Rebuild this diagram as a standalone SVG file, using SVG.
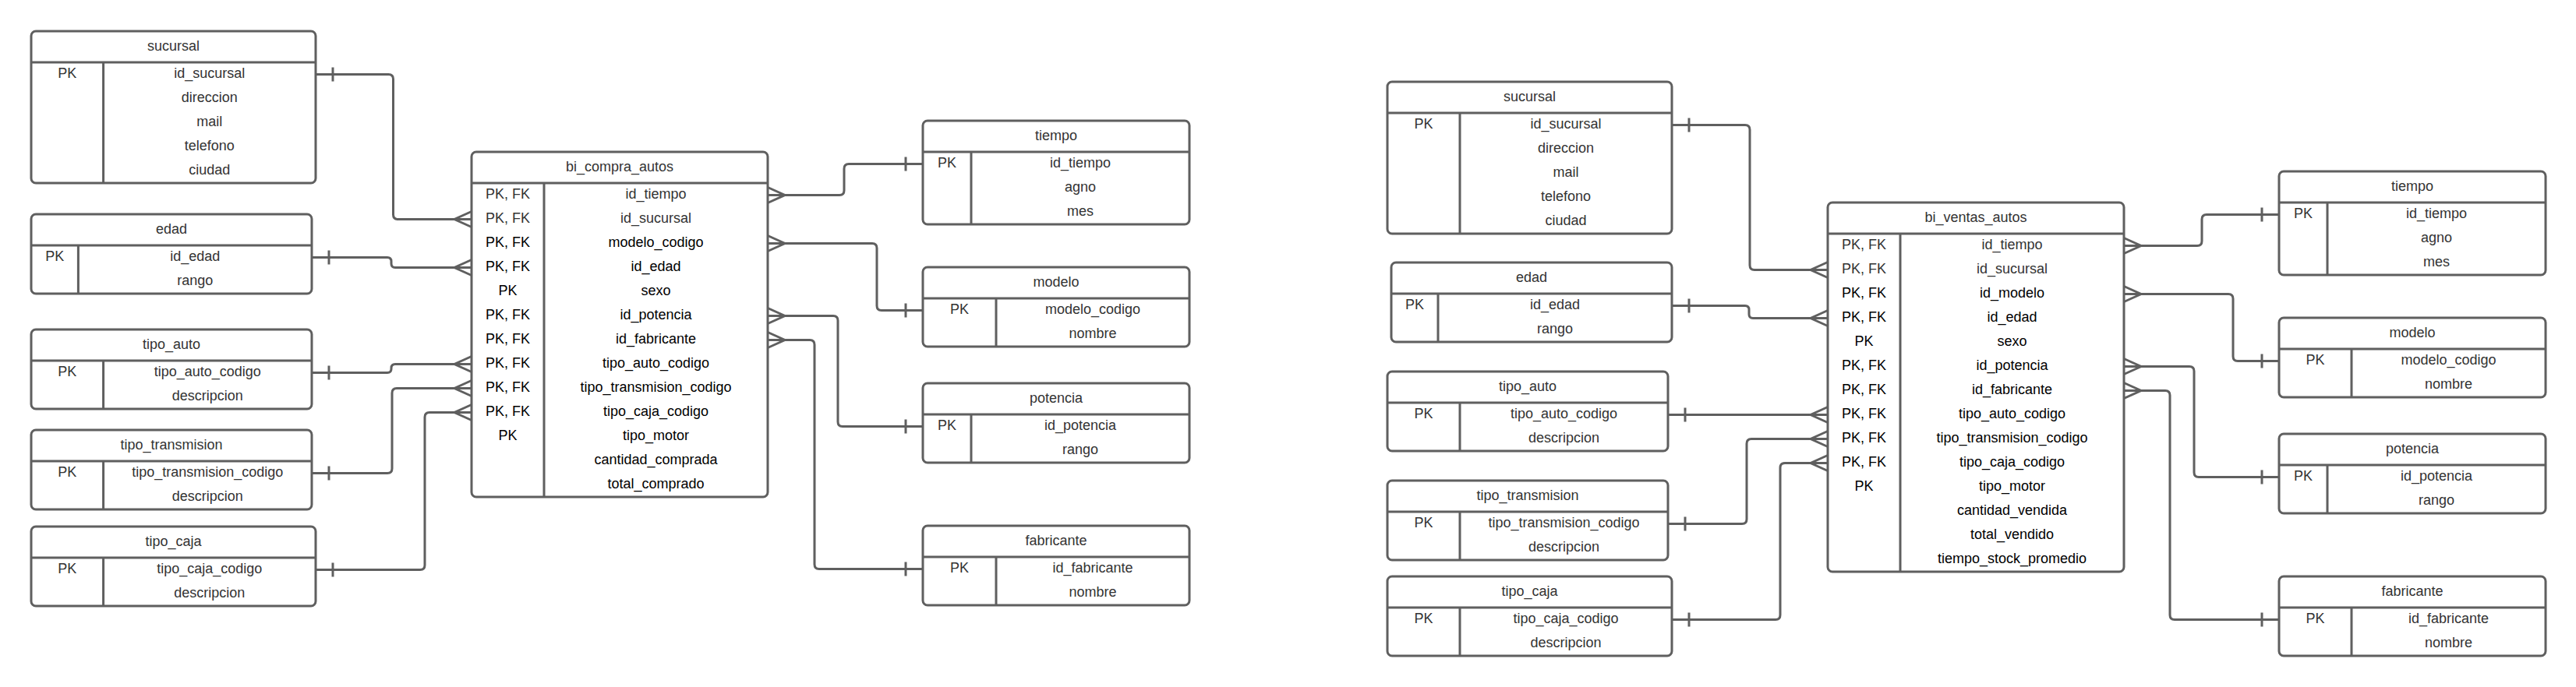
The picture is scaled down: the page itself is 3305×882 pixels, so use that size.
<svg xmlns="http://www.w3.org/2000/svg" width="3305" height="882" viewBox="0 0 3305 882">
<style>
.box{fill:#fff;stroke:#5f5f5f;stroke-width:3}
.ln{fill:none;stroke:#5f5f5f;stroke-width:3}
.c{fill:none;stroke:#5f5f5f;stroke-width:3;stroke-linejoin:round}
text{font-family:"Liberation Sans",Arial,sans-serif;font-size:18px;text-anchor:middle;fill:#333}
.k{fill:#000}
</style>
<defs>
<marker id="many" markerUnits="userSpaceOnUse" orient="auto-start-reverse" refX="0" refY="0" markerWidth="40" markerHeight="30" overflow="visible">
<path d="M0,-10 L-22,0 L0,10" fill="none" stroke="#5f5f5f" stroke-width="3"/>
</marker>
<marker id="one" markerUnits="userSpaceOnUse" orient="auto-start-reverse" refX="0" refY="0" markerWidth="40" markerHeight="30" overflow="visible">
<path d="M-22,-9 V9" fill="none" stroke="#5f5f5f" stroke-width="3"/>
</marker>
</defs>
<rect width="3305" height="882" fill="#fff"/>

<!-- Diagram 1 -->
<g id="sucursal">
<rect class="box" x="40" y="40" width="365" height="195" rx="6"/>
<path class="ln" d="M40 80H405M132.6 80V235"/>
<text x="222.5" y="65">sucursal</text>
<text x="86.3" y="100">PK</text>
<text x="268.8" y="100">id_sucursal</text>
<text x="268.8" y="131">direccion</text>
<text x="268.8" y="162">mail</text>
<text x="268.8" y="193">telefono</text>
<text x="268.8" y="224">ciudad</text>
</g>
<g id="edad">
<rect class="box" x="40" y="275" width="360" height="102" rx="6"/>
<path class="ln" d="M40 315H400M100.4 315V377"/>
<text x="220" y="300">edad</text>
<text x="70.2" y="335">PK</text>
<text x="250.2" y="335">id_edad</text>
<text x="250.2" y="366">rango</text>
</g>
<g id="tipo_auto">
<rect class="box" x="40" y="423" width="360" height="102" rx="6"/>
<path class="ln" d="M40 463H400M132.6 463V525"/>
<text x="220" y="448">tipo_auto</text>
<text x="86.3" y="483">PK</text>
<text x="266.3" y="483">tipo_auto_codigo</text>
<text x="266.3" y="514">descripcion</text>
</g>
<g id="tipo_transmision">
<rect class="box" x="40" y="552" width="360" height="102" rx="6"/>
<path class="ln" d="M40 592H400M132.6 592V654"/>
<text x="220" y="577">tipo_transmision</text>
<text x="86.3" y="612">PK</text>
<text x="266.3" y="612">tipo_transmision_codigo</text>
<text x="266.3" y="643">descripcion</text>
</g>
<g id="tipo_caja">
<rect class="box" x="40" y="676" width="365" height="102" rx="6"/>
<path class="ln" d="M40 716H405M132.6 716V778"/>
<text x="222.5" y="701">tipo_caja</text>
<text x="86.3" y="736">PK</text>
<text x="268.8" y="736">tipo_caja_codigo</text>
<text x="268.8" y="767">descripcion</text>
</g>
<g id="bi_compra_autos">
<rect class="box" x="605" y="195" width="380" height="443" rx="6"/>
<path class="ln" d="M605 235H985M698 235V638"/>
<text x="795" y="220">bi_compra_autos</text>
<text x="651.5" y="255">PK, FK</text>
<text x="651.5" y="286">PK, FK</text>
<text class="k" x="651.5" y="317">PK, FK</text>
<text class="k" x="651.5" y="348">PK, FK</text>
<text class="k" x="651.5" y="379">PK</text>
<text class="k" x="651.5" y="410">PK, FK</text>
<text class="k" x="651.5" y="441">PK, FK</text>
<text class="k" x="651.5" y="472">PK, FK</text>
<text class="k" x="651.5" y="503">PK, FK</text>
<text class="k" x="651.5" y="534">PK, FK</text>
<text class="k" x="651.5" y="565">PK</text>
<text x="841.5" y="255">id_tiempo</text>
<text x="841.5" y="286">id_sucursal</text>
<text class="k" x="841.5" y="317">modelo_codigo</text>
<text class="k" x="841.5" y="348">id_edad</text>
<text class="k" x="841.5" y="379">sexo</text>
<text class="k" x="841.5" y="410">id_potencia</text>
<text class="k" x="841.5" y="441">id_fabricante</text>
<text class="k" x="841.5" y="472">tipo_auto_codigo</text>
<text class="k" x="841.5" y="503">tipo_transmision_codigo</text>
<text class="k" x="841.5" y="534">tipo_caja_codigo</text>
<text class="k" x="841.5" y="565">tipo_motor</text>
<text class="k" x="841.5" y="596">cantidad_comprada</text>
<text class="k" x="841.5" y="627">total_comprado</text>
</g>
<g id="tiempo">
<rect class="box" x="1184" y="155" width="342" height="133" rx="6"/>
<path class="ln" d="M1184 195H1526M1246 195V288"/>
<text x="1355" y="180">tiempo</text>
<text x="1215" y="215">PK</text>
<text x="1386" y="215">id_tiempo</text>
<text x="1386" y="246">agno</text>
<text x="1386" y="277">mes</text>
</g>
<g id="modelo">
<rect class="box" x="1184" y="343" width="342" height="102" rx="6"/>
<path class="ln" d="M1184 383H1526M1278 383V445"/>
<text x="1355" y="368">modelo</text>
<text x="1231" y="403">PK</text>
<text x="1402" y="403">modelo_codigo</text>
<text x="1402" y="434">nombre</text>
</g>
<g id="potencia">
<rect class="box" x="1184" y="492" width="342" height="102" rx="6"/>
<path class="ln" d="M1184 532H1526M1246 532V594"/>
<text x="1355" y="517">potencia</text>
<text x="1215" y="552">PK</text>
<text x="1386" y="552">id_potencia</text>
<text x="1386" y="583">rango</text>
</g>
<g id="fabricante">
<rect class="box" x="1184" y="675" width="342" height="102" rx="6"/>
<path class="ln" d="M1184 715H1526M1278 715V777"/>
<text x="1355" y="700">fabricante</text>
<text x="1231" y="735">PK</text>
<text x="1402" y="735">id_fabricante</text>
<text x="1402" y="766">nombre</text>
</g>

<!-- Diagram 2 -->
<g id="sucursal_2">
<rect class="box" x="1780" y="105" width="365" height="195" rx="6"/>
<path class="ln" d="M1780 145H2145M1873 145V300"/>
<text x="1962.5" y="130">sucursal</text>
<text x="1826.5" y="165">PK</text>
<text x="2009" y="165">id_sucursal</text>
<text x="2009" y="196">direccion</text>
<text x="2009" y="227">mail</text>
<text x="2009" y="258">telefono</text>
<text x="2009" y="289">ciudad</text>
</g>
<g id="edad_2">
<rect class="box" x="1785" y="337" width="360" height="102" rx="6"/>
<path class="ln" d="M1785 377H2145M1845 377V439"/>
<text x="1965" y="362">edad</text>
<text x="1815" y="397">PK</text>
<text x="1995" y="397">id_edad</text>
<text x="1995" y="428">rango</text>
</g>
<g id="tipo_auto_2">
<rect class="box" x="1780" y="477" width="360" height="102" rx="6"/>
<path class="ln" d="M1780 517H2140M1873 517V579"/>
<text x="1960" y="502">tipo_auto</text>
<text x="1826.5" y="537">PK</text>
<text x="2006.5" y="537">tipo_auto_codigo</text>
<text x="2006.5" y="568">descripcion</text>
</g>
<g id="tipo_transmision_2">
<rect class="box" x="1780" y="617" width="360" height="102" rx="6"/>
<path class="ln" d="M1780 657H2140M1873 657V719"/>
<text x="1960" y="642">tipo_transmision</text>
<text x="1826.5" y="677">PK</text>
<text x="2006.5" y="677">tipo_transmision_codigo</text>
<text x="2006.5" y="708">descripcion</text>
</g>
<g id="tipo_caja_2">
<rect class="box" x="1780" y="740" width="365" height="102" rx="6"/>
<path class="ln" d="M1780 780H2145M1873 780V842"/>
<text x="1962.5" y="765">tipo_caja</text>
<text x="1826.5" y="800">PK</text>
<text x="2009" y="800">tipo_caja_codigo</text>
<text x="2009" y="831">descripcion</text>
</g>
<g id="bi_ventas_autos">
<rect class="box" x="2345" y="260" width="380" height="474" rx="6"/>
<path class="ln" d="M2345 300H2725M2438 300V734"/>
<text x="2535" y="285">bi_ventas_autos</text>
<text x="2391.5" y="320">PK, FK</text>
<text x="2391.5" y="351">PK, FK</text>
<text class="k" x="2391.5" y="382">PK, FK</text>
<text class="k" x="2391.5" y="413">PK, FK</text>
<text class="k" x="2391.5" y="444">PK</text>
<text class="k" x="2391.5" y="475">PK, FK</text>
<text class="k" x="2391.5" y="506">PK, FK</text>
<text class="k" x="2391.5" y="537">PK, FK</text>
<text class="k" x="2391.5" y="568">PK, FK</text>
<text class="k" x="2391.5" y="599">PK, FK</text>
<text class="k" x="2391.5" y="630">PK</text>
<text x="2581.5" y="320">id_tiempo</text>
<text x="2581.5" y="351">id_sucursal</text>
<text class="k" x="2581.5" y="382">id_modelo</text>
<text class="k" x="2581.5" y="413">id_edad</text>
<text class="k" x="2581.5" y="444">sexo</text>
<text class="k" x="2581.5" y="475">id_potencia</text>
<text class="k" x="2581.5" y="506">id_fabricante</text>
<text class="k" x="2581.5" y="537">tipo_auto_codigo</text>
<text class="k" x="2581.5" y="568">tipo_transmision_codigo</text>
<text class="k" x="2581.5" y="599">tipo_caja_codigo</text>
<text class="k" x="2581.5" y="630">tipo_motor</text>
<text class="k" x="2581.5" y="661">cantidad_vendida</text>
<text class="k" x="2581.5" y="692">total_vendido</text>
<text class="k" x="2581.5" y="723">tiempo_stock_promedio</text>
</g>
<g id="tiempo_2">
<rect class="box" x="2924" y="220" width="342" height="133" rx="6"/>
<path class="ln" d="M2924 260H3266M2986 260V353"/>
<text x="3095" y="245">tiempo</text>
<text x="2955" y="280">PK</text>
<text x="3126" y="280">id_tiempo</text>
<text x="3126" y="311">agno</text>
<text x="3126" y="342">mes</text>
</g>
<g id="modelo_2">
<rect class="box" x="2924" y="408" width="342" height="102" rx="6"/>
<path class="ln" d="M2924 448H3266M3017 448V510"/>
<text x="3095" y="433">modelo</text>
<text x="2970.5" y="468">PK</text>
<text x="3141.5" y="468">modelo_codigo</text>
<text x="3141.5" y="499">nombre</text>
</g>
<g id="potencia_2">
<rect class="box" x="2924" y="557" width="342" height="102" rx="6"/>
<path class="ln" d="M2924 597H3266M2986 597V659"/>
<text x="3095" y="582">potencia</text>
<text x="2955" y="617">PK</text>
<text x="3126" y="617">id_potencia</text>
<text x="3126" y="648">rango</text>
</g>
<g id="fabricante_2">
<rect class="box" x="2924" y="740" width="342" height="102" rx="6"/>
<path class="ln" d="M2924 780H3266M3017 780V842"/>
<text x="3095" y="765">fabricante</text>
<text x="2970.5" y="800">PK</text>
<text x="3141.5" y="800">id_fabricante</text>
<text x="3141.5" y="831">nombre</text>
</g>

<g id="connectors">
<path class="c" marker-start="url(#one)" marker-end="url(#many)" d="M405 95.5 H498.5 Q504.5 95.5 504.5 101.5 V275.5 Q504.5 281.5 510.5 281.5 H605"/>
<path class="c" marker-start="url(#one)" marker-end="url(#many)" d="M400 330.5 H497 Q502 330.5 502 335.5 V338.5 Q502 343.5 507 343.5 H605"/>
<path class="c" marker-start="url(#one)" marker-end="url(#many)" d="M400 478.5 H497 Q502 478.5 502 473.5 V472.5 Q502 467.5 507 467.5 H605"/>
<path class="c" marker-start="url(#one)" marker-end="url(#many)" d="M400 607.5 H497 Q503 607.5 503 601.5 V504.5 Q503 498.5 509 498.5 H605"/>
<path class="c" marker-start="url(#one)" marker-end="url(#many)" d="M405 731.5 H539 Q545 731.5 545 725.5 V535.5 Q545 529.5 551 529.5 H605"/>
<path class="c" marker-start="url(#many)" marker-end="url(#one)" d="M985 250.5 H1077 Q1083 250.5 1083 244.5 V216.5 Q1083 210.5 1089 210.5 H1184"/>
<path class="c" marker-start="url(#many)" marker-end="url(#one)" d="M985 312.5 H1119 Q1125 312.5 1125 318.5 V392.5 Q1125 398.5 1131 398.5 H1184"/>
<path class="c" marker-start="url(#many)" marker-end="url(#one)" d="M985 405.5 H1069 Q1075 405.5 1075 411.5 V541.5 Q1075 547.5 1081 547.5 H1184"/>
<path class="c" marker-start="url(#many)" marker-end="url(#one)" d="M985 436.5 H1039 Q1045 436.5 1045 442.5 V724.5 Q1045 730.5 1051 730.5 H1184"/>
<path class="c" marker-start="url(#one)" marker-end="url(#many)" d="M2145 160.5 H2239 Q2245 160.5 2245 166.5 V340.5 Q2245 346.5 2251 346.5 H2345"/>
<path class="c" marker-start="url(#one)" marker-end="url(#many)" d="M2145 392.5 H2239 Q2244 392.5 2244 397.5 V403.5 Q2244 408.5 2249 408.5 H2345"/>
<path class="c" marker-start="url(#one)" marker-end="url(#many)" d="M2140 532.5 H2345"/>
<path class="c" marker-start="url(#one)" marker-end="url(#many)" d="M2140 672.5 H2235 Q2241 672.5 2241 666.5 V569.5 Q2241 563.5 2247 563.5 H2345"/>
<path class="c" marker-start="url(#one)" marker-end="url(#many)" d="M2145 795.5 H2278 Q2284 795.5 2284 789.5 V600.5 Q2284 594.5 2290 594.5 H2345"/>
<path class="c" marker-start="url(#many)" marker-end="url(#one)" d="M2725 315.5 H2819 Q2825 315.5 2825 309.5 V281.5 Q2825 275.5 2831 275.5 H2924"/>
<path class="c" marker-start="url(#many)" marker-end="url(#one)" d="M2725 377.5 H2859 Q2865 377.5 2865 383.5 V457.5 Q2865 463.5 2871 463.5 H2924"/>
<path class="c" marker-start="url(#many)" marker-end="url(#one)" d="M2725 470.5 H2809 Q2815 470.5 2815 476.5 V606.5 Q2815 612.5 2821 612.5 H2924"/>
<path class="c" marker-start="url(#many)" marker-end="url(#one)" d="M2725 501.5 H2778 Q2784 501.5 2784 507.5 V789.5 Q2784 795.5 2790 795.5 H2924"/>
</g>
</svg>
